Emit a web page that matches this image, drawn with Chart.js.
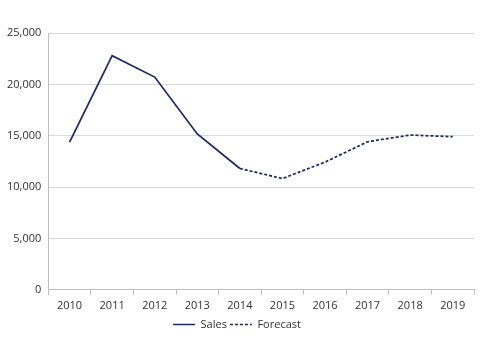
<!DOCTYPE html>
<html>
<head>
<meta charset="utf-8">
<script src="https://cdn.jsdelivr.net/npm/chart.js@4/dist/chart.umd.min.js"></script>
<style>
  html, body { margin: 0; padding: 0; background: #fff; }
  #wrap { width: 480px; height: 349px; }
</style>
</head>
<body>
<div id="wrap"><canvas id="chart"></canvas></div>
<script>
// values
var years = ["2010", "2011", "2012", "2013", "2014", "2015", "2016", "2017", "2018", "2019"];
var sales = [14380, 22800, 20710, 15170, 11810, null, null, null, null, null];
var forecast = [null, null, null, null, 11810, 10830, 12430, 14410, 15070, 14900];

var lineColor = "#1f2a5e";
var textColor = "#333";

Chart.defaults.font.family = "'Open Sans', 'Liberation Sans', sans-serif";
Chart.defaults.font.size = 11;
Chart.defaults.color = textColor;

var ctx = document.getElementById("chart");
var chart = new Chart(ctx, {
  type: "line",
  data: {
    labels: years,
    datasets: [{
      label: "Sales",
      data: sales,
      borderColor: lineColor,
      backgroundColor: lineColor,
      borderWidth: 1.75,
      pointRadius: 0,
      tension: 0
    }, {
      label: "Forecast",
      data: forecast,
      borderColor: lineColor,
      backgroundColor: lineColor,
      borderWidth: 1.75,
      borderDash: [3, 2],
      pointRadius: 0,
      tension: 0
    }]
  },
  options: {
    responsive: true,
    maintainAspectRatio: false,
    animation: false,
    layout: { padding: { top: 33, right: 6, left: 0, bottom: 9 } },
    plugins: {
      tooltip: { enabled: false },
      legend: {
        position: "bottom",
        labels: {
          usePointStyle: true,
          pointStyle: "line",
          pointStyleWidth: 22,
          boxHeight: 8,
          padding: 3,
          color: textColor,
          // point style labels drop the dash, so put it back by hand
          generateLabels: function (chart) {
            var items = Chart.defaults.plugins.legend.labels.generateLabels(chart);
            items.forEach(function (it) {
              var ds = chart.data.datasets[it.datasetIndex];
              it.lineDash = ds.borderDash || [];
              it.lineWidth = 1.5;
              it.strokeStyle = ds.borderColor;
            });
            return items;
          }
        }
      }
    },
    scales: {
      x: {
        offset: true,
        grid: {
          offset: true,
          drawOnChartArea: false,
          tickLength: 5,
          color: "#bfbfbf"
        },
        border: { color: "#bfbfbf" },
        ticks: { padding: 4, color: textColor }
      },
      y: {
        min: 0,
        max: 25000,
        ticks: {
          stepSize: 5000,
          padding: 7,
          color: textColor,
          callback: function (v) { return v.toLocaleString("en-US"); }
        },
        grid: { color: "#d9d9d9", drawTicks: false },
        border: { color: "#bfbfbf" }
      }
    }
  }
});
</script>
</body>
</html>
